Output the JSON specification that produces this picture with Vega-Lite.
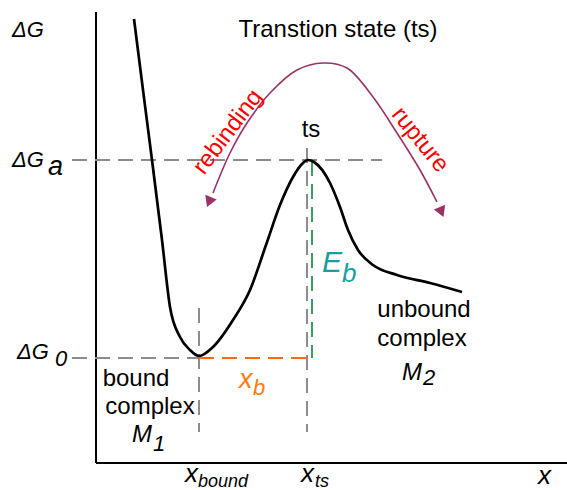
{
  "$schema": "https://vega.github.io/schema/vega-lite/v6.json",
  "width": 567,
  "height": 490,
  "autosize": {"type": "none"},
  "padding": 0,
  "background": "white",
  "config": {"view": {"stroke": null}, "axis": {"disable": true}},
  "encoding": {
    "x": {"field": "x", "type": "quantitative", "scale": {"domain": [-0.96, 4.71], "nice": false, "zero": false}},
    "y": {"field": "g", "type": "quantitative", "scale": {"domain": [-0.27, 4.63], "nice": false, "zero": false}}
  },
  "layer": [
    {
      "data": {"values": [
        {"x": 0, "g": 4.51, "x2": 0, "g2": 0},
        {"x": 0, "g": 0, "x2": 4.71, "g2": 0}
      ]},
      "mark": {"type": "rule", "color": "black", "strokeWidth": 2},
      "encoding": {"x2": {"field": "x2"}, "y2": {"field": "g2"}}
    },
    {
      "data": {"values": [
        {"x": -0.24, "g": 3.03, "x2": 2.86, "g2": 3.03},
        {"x": -0.24, "g": 1.05, "x2": 1.03, "g2": 1.05},
        {"x": 1.03, "g": 1.55, "x2": 1.03, "g2": 0.31},
        {"x": 2.11, "g": 3.15, "x2": 2.11, "g2": 0.31}
      ]},
      "mark": {"type": "rule", "color": "#8c8c8c", "strokeWidth": 2, "strokeDash": [15, 8]},
      "encoding": {"x2": {"field": "x2"}, "y2": {"field": "g2"}}
    },
    {
      "data": {"values": [{"x": 1.03, "g": 1.05, "x2": 2.11, "g2": 1.05}]},
      "mark": {"type": "rule", "color": "#ff6a10", "strokeWidth": 2, "strokeDash": [15, 8]},
      "encoding": {"x2": {"field": "x2"}, "y2": {"field": "g2"}}
    },
    {
      "data": {"values": [{"x": 2.16, "g": 3.02, "x2": 2.16, "g2": 1.05}]},
      "mark": {"type": "rule", "color": "#3a9e62", "strokeWidth": 2, "strokeDash": [15, 8]},
      "encoding": {"x2": {"field": "x2"}, "y2": {"field": "g2"}}
    },
    {
      "data": {"values": [
        {"x": 0.38, "g": 4.44}, {"x": 0.47, "g": 3.73}, {"x": 0.56, "g": 3.03},
        {"x": 0.66, "g": 2.23}, {"x": 0.74, "g": 1.56}, {"x": 0.84, "g": 1.26},
        {"x": 0.94, "g": 1.13}, {"x": 1.03, "g": 1.07}, {"x": 1.17, "g": 1.16},
        {"x": 1.37, "g": 1.43}, {"x": 1.54, "g": 1.73}, {"x": 1.70, "g": 2.18},
        {"x": 1.84, "g": 2.58}, {"x": 1.97, "g": 2.86}, {"x": 2.06, "g": 2.99},
        {"x": 2.12, "g": 3.03}, {"x": 2.18, "g": 3.01}, {"x": 2.34, "g": 2.80},
        {"x": 2.44, "g": 2.56}, {"x": 2.52, "g": 2.33}, {"x": 2.62, "g": 2.13},
        {"x": 2.77, "g": 1.98}, {"x": 3.01, "g": 1.88}, {"x": 3.34, "g": 1.80},
        {"x": 3.66, "g": 1.71}
      ]},
      "mark": {"type": "line", "color": "black", "strokeWidth": 2.7, "interpolate": "monotone"},
      "encoding": {}
    },
    {
      "data": {"values": [
        {"x": 1.17, "g": 2.70}, {"x": 1.34, "g": 3.10}, {"x": 1.51, "g": 3.40},
        {"x": 1.74, "g": 3.70}, {"x": 2.01, "g": 3.93}, {"x": 2.27, "g": 4.00},
        {"x": 2.51, "g": 3.95}, {"x": 2.77, "g": 3.66}, {"x": 3.01, "g": 3.30},
        {"x": 3.24, "g": 2.93}, {"x": 3.41, "g": 2.61}
      ]},
      "mark": {"type": "line", "color": "#993366", "strokeWidth": 1.6, "interpolate": "catmull-rom"},
      "encoding": {}
    },
    {
      "data": {"values": [{"x": 1.13, "g": 2.61}]},
      "mark": {"type": "point", "shape": "triangle-down", "filled": true, "color": "#993366", "opacity": 1, "size": 150, "angle": 22}
    },
    {
      "data": {"values": [{"x": 3.455, "g": 2.51}]},
      "mark": {"type": "point", "shape": "triangle-down", "filled": true, "color": "#993366", "opacity": 1, "size": 150, "angle": 338}
    },
    {
      "data": {"values": [
        {"x": 2.42, "g": 4.26, "t": "Transtion state (ts)"},
        {"x": 2.15, "g": 3.26, "t": "ts"},
        {"x": 0.40, "g": 0.77, "t": "bound"},
        {"x": 0.54, "g": 0.49, "t": "complex"},
        {"x": 3.28, "g": 1.46, "t": "unbound"},
        {"x": 3.26, "g": 1.17, "t": "complex"}
      ]},
      "mark": {"type": "text", "font": "Liberation Sans", "fontSize": 24, "color": "black", "align": "center", "baseline": "alphabetic"},
      "encoding": {"text": {"field": "t"}}
    },
    {
      "data": {"values": [
        {"x": -0.84, "g": 4.26, "t": "ΔG"},
        {"x": -0.84, "g": 2.96, "t": "ΔG"},
        {"x": -0.79, "g": 1.04, "t": "ΔG"}
      ]},
      "mark": {"type": "text", "font": "Liberation Sans", "fontSize": 22, "fontStyle": "italic", "color": "black", "align": "left", "baseline": "alphabetic"},
      "encoding": {"text": {"field": "t"}}
    },
    {
      "data": {"values": [
        {"x": 0.36, "g": 0.21, "t": "M"},
        {"x": 3.06, "g": 0.83, "t": "M"}
      ]},
      "mark": {"type": "text", "font": "Liberation Sans", "fontSize": 24, "fontStyle": "italic", "color": "black", "align": "left", "baseline": "alphabetic"},
      "encoding": {"text": {"field": "t"}}
    },
    {
      "data": {"values": [{"x": -0.48, "g": 2.88, "t": "a"}]},
      "mark": {"type": "text", "font": "Liberation Sans", "fontSize": 27, "fontStyle": "italic", "color": "black", "align": "left", "baseline": "alphabetic"},
      "encoding": {"text": {"field": "t"}}
    },
    {
      "data": {"values": [
        {"x": -0.41, "g": 0.97, "t": "0"},
        {"x": 0.57, "g": 0.12, "t": "1"},
        {"x": 3.27, "g": 0.78, "t": "2"}
      ]},
      "mark": {"type": "text", "font": "Liberation Sans", "fontSize": 22, "fontStyle": "italic", "color": "black", "align": "left", "baseline": "alphabetic"},
      "encoding": {"text": {"field": "t"}}
    },
    {
      "data": {"values": [
        {"x": 0.89, "g": -0.19, "t": "x"},
        {"x": 2.05, "g": -0.19, "t": "x"},
        {"x": 4.42, "g": -0.21, "t": "x"}
      ]},
      "mark": {"type": "text", "font": "Liberation Sans", "fontSize": 26, "fontStyle": "italic", "color": "black", "align": "left", "baseline": "alphabetic"},
      "encoding": {"text": {"field": "t"}}
    },
    {
      "data": {"values": [
        {"x": 1.02, "g": -0.235, "t": "bound"},
        {"x": 2.19, "g": -0.235, "t": "ts"}
      ]},
      "mark": {"type": "text", "font": "Liberation Sans", "fontSize": 18, "fontStyle": "italic", "color": "black", "align": "left", "baseline": "alphabetic"},
      "encoding": {"text": {"field": "t"}}
    },
    {
      "data": {"values": [{"x": 2.26, "g": 1.91, "t": "E"}]},
      "mark": {"type": "text", "font": "Liberation Sans", "fontSize": 30, "fontStyle": "italic", "color": "#15a0a0", "align": "left", "baseline": "alphabetic"},
      "encoding": {"text": {"field": "t"}}
    },
    {
      "data": {"values": [{"x": 2.46, "g": 1.81, "t": "b"}]},
      "mark": {"type": "text", "font": "Liberation Sans", "fontSize": 26, "fontStyle": "italic", "color": "#15a0a0", "align": "left", "baseline": "alphabetic"},
      "encoding": {"text": {"field": "t"}}
    },
    {
      "data": {"values": [{"x": 1.43, "g": 0.75, "t": "x"}]},
      "mark": {"type": "text", "font": "Liberation Sans", "fontSize": 27, "fontStyle": "italic", "color": "#ff7a10", "align": "left", "baseline": "alphabetic"},
      "encoding": {"text": {"field": "t"}}
    },
    {
      "data": {"values": [{"x": 1.57, "g": 0.68, "t": "b"}]},
      "mark": {"type": "text", "font": "Liberation Sans", "fontSize": 22, "fontStyle": "italic", "color": "#ff7a10", "align": "left", "baseline": "alphabetic"},
      "encoding": {"text": {"field": "t"}}
    },
    {
      "data": {"values": [{"x": 1.32, "g": 3.31, "t": "rebinding"}]},
      "mark": {"type": "text", "font": "Liberation Sans", "fontSize": 24, "color": "#ff0000", "align": "center", "baseline": "middle", "angle": 307},
      "encoding": {"text": {"field": "t"}}
    },
    {
      "data": {"values": [{"x": 3.24, "g": 3.23, "t": "rupture"}]},
      "mark": {"type": "text", "font": "Liberation Sans", "fontSize": 24, "color": "#ff0000", "align": "center", "baseline": "middle", "angle": 51},
      "encoding": {"text": {"field": "t"}}
    }
  ]
}
